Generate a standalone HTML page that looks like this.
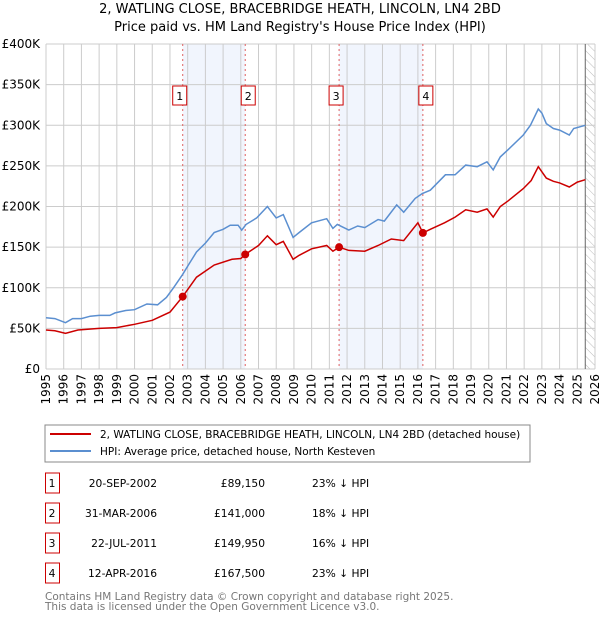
<!DOCTYPE html>
<html><head><meta charset="utf-8">
<style>
body{margin:0;background:#fff;font-family:"DejaVu Sans","Liberation Sans",sans-serif;}
svg text{font-family:"DejaVu Sans","Liberation Sans",sans-serif;}
</style></head>
<body>
<svg id="chart" width="600" height="620" xmlns="http://www.w3.org/2000/svg">
<defs>
<pattern id="hatch" width="6" height="6" patternUnits="userSpaceOnUse" patternTransform="rotate(-45)">
<line x1="0" y1="0" x2="0" y2="6" stroke="#bbb" stroke-width="1"/>
</pattern>
</defs>
<text x="300" y="13" text-anchor="middle" font-size="13" fill="#000">2, WATLING CLOSE, BRACEBRIDGE HEATH, LINCOLN, LN4 2BD</text>
<text x="300" y="31" text-anchor="middle" font-size="13" fill="#000">Price paid vs. HM Land Registry's House Price Index (HPI)</text>
<g id="plot"></g>
<rect x="45" y="425" width="485" height="37" fill="#fff" stroke="#888"/>
<line x1="50" y1="434" x2="91" y2="434" stroke="#cc0000" stroke-width="2"/>
<text x="100" y="438" font-size="10.5">2, WATLING CLOSE, BRACEBRIDGE HEATH, LINCOLN, LN4 2BD (detached house)</text>
<line x1="50" y1="451" x2="91" y2="451" stroke="#5b8fd0" stroke-width="2"/>
<text x="100" y="455" font-size="10.5">HPI: Average price, detached house, North Kesteven</text>
<g id="table" font-size="10.7"></g>
<text x="45" y="600" font-size="10.5" fill="#777">Contains HM Land Registry data © Crown copyright and database right 2025.</text>
<text x="45" y="610" font-size="10.5" fill="#777">This data is licensed under the Open Government Licence v3.0.</text>
</svg>
<script>
const hpiYears=[1995,1995.5,1996.1,1996.5,1997,1997.5,1998,1998.6,1998.9,1999.5,2000,2000.7,2001.3,2001.8,2002.2,2002.7,2003.1,2003.5,2004,2004.5,2005,2005.4,2005.85,2006.05,2006.3,2006.9,2007.5,2008,2008.4,2008.95,2009.3,2010,2010.85,2011.2,2011.45,2012.1,2012.6,2013,2013.75,2014.1,2014.8,2015.2,2015.85,2016.25,2016.7,2017.55,2018.1,2018.7,2019.35,2019.9,2020.25,2020.65,2021.1,2021.95,2022.35,2022.8,2023,2023.25,2023.65,2024,2024.55,2024.8,2025.45];
const hpiValues=[63,62,57,62,62,65,66,66,69,72,73,80,79,88,100,116,130,144,155,168,172,177,177,171,178,186,200,186,190,162,168,180,185,173,178,171,176,174,184,182,202,193,210,216,220,239,239,251,249,255,245,261,270,288,300,320,315,302,296,294,288,296,300];
const priceYears=[1995,1995.5,1996.1,1996.8,1998,1999,2000,2001,2002,2002.72,2003.5,2004.5,2005.5,2006,2006.25,2007,2007.5,2008,2008.4,2008.95,2009.3,2010,2010.85,2011.2,2011.55,2012.1,2013,2013.75,2014.5,2015.2,2016.0,2016.28,2016.7,2017.5,2018.1,2018.7,2019.35,2019.9,2020.25,2020.65,2021.1,2021.95,2022.4,2022.8,2023.25,2023.65,2024,2024.55,2025,2025.45];
const priceValues=[48,47,44,48,50,51,55,60,70,89.15,113,128,135,136,141,152,164,153,157,135,140,148,152,145,149.95,146,145,152,160,158,180,167.5,172,180,187,196,193,197,187,200,207,222,232,249,235,231,229,224,230,233];
const saleLabels=["1","2","3","4"];
const saleYears=[2002.72,2006.25,2011.55,2016.28];
const saleValues=[89.15,141,149.95,167.5];
const saleDates=["20-SEP-2002","31-MAR-2006","22-JUL-2011","12-APR-2016"];
const salePrices=["£89,150","£141,000","£149,950","£167,500"];
const saleDiffs=["23% ↓ HPI","18% ↓ HPI","16% ↓ HPI","23% ↓ HPI"];
const yTicks=[0,50,100,150,200,250,300,350,400];
const yTickLabels=["£0","£50K","£100K","£150K","£200K","£250K","£300K","£350K","£400K"];
const xTicks=[1995,1996,1997,1998,1999,2000,2001,2002,2003,2004,2005,2006,2007,2008,2009,2010,2011,2012,2013,2014,2015,2016,2017,2018,2019,2020,2021,2022,2023,2024,2025,2026];
const dataEnd=2025.45;

const NS="http://www.w3.org/2000/svg";
const X0=46,X1=595,Y0=369,Y1=44;
const xs=y=>X0+(y-1995)/(2026-1995)*(X1-X0);
const ys=v=>Y0-v/400*(Y0-Y1);
const plot=document.getElementById('plot');
function mk(tag,attrs,parent){const e=document.createElementNS(NS,tag);for(const k in attrs)e.setAttribute(k,attrs[k]);(parent||plot).appendChild(e);return e;}

for(let i=0;i<saleYears.length;i+=2){
  const r=mk('rect',{x:xs(saleYears[i]),y:Y1,width:xs(saleYears[i+1])-xs(saleYears[i]),height:Y0-Y1,fill:'#eef3fc',opacity:0.8});
  
  
}
const h=mk('rect',{x:xs(dataEnd),y:Y1,width:X1-xs(dataEnd),height:Y0-Y1,fill:'url(#hatch)'});


yTicks.forEach((t,i)=>{
  const l=mk('line',{x1:X0,x2:X1,y1:ys(t),y2:ys(t),stroke:'#ccc','stroke-width':1});
  
  
  const tx=mk('text',{x:X0-6,y:ys(t)+4,'text-anchor':'end','font-size':12,fill:'#000'});
  tx.textContent=yTickLabels[i];
  
  
});
xTicks.forEach(t=>{
  const l=mk('line',{x1:xs(t),x2:xs(t),y1:Y1,y2:Y0,stroke:'#ccc','stroke-width':1});
  
  
  const tx=mk('text',{x:0,y:0,'text-anchor':'end','font-size':12,fill:'#000',transform:`translate(${xs(t)+4},374) rotate(-90)`});
  tx.textContent=t;
  
  
});
const dl=mk('line',{x1:xs(dataEnd),x2:xs(dataEnd),y1:Y1,y2:Y0,stroke:'#666','stroke-width':1});


saleYears.forEach((y,i)=>{
  const l=mk('line',{x1:xs(y),x2:xs(y),y1:Y1,y2:Y0,stroke:'#e06060','stroke-width':1,'stroke-dasharray':'2,3'});
  
  
  const bx=xs(y)-(i%2==0?3:-3);
  const r=mk('rect',{x:bx-7,y:86,width:14,height:19,fill:'#fff',stroke:'#cc0000'});
  
  
  const t=mk('text',{x:bx,y:100,'text-anchor':'middle','font-size':11});
  t.textContent=saleLabels[i];
  
  
});
const path=(xa,va)=>xa.map((y,i)=>(i?'L':'M')+xs(y).toFixed(1)+','+ys(va[i]).toFixed(1)).join('');
const hp=mk('path',{d:path(hpiYears,hpiValues),fill:'none',stroke:'#5b8fd0','stroke-width':1.5});


const pp=mk('path',{d:path(priceYears,priceValues),fill:'none',stroke:'#cc0000','stroke-width':1.5});


saleYears.forEach((y,i)=>{
  const c=mk('circle',{cx:xs(y),cy:ys(saleValues[i]),r:4,fill:'#cc0000'});
  
  
});
const tb=document.getElementById('table');
const rowY=[483,513,543,573];
saleLabels.forEach((s,i)=>{
  const y=rowY[i];
  const r=mk('rect',{x:45.5,y:y-10,width:14,height:20,fill:'#fff',stroke:'#cc0000'},tb);
  
  
  const cells=[[52,'middle',s,'table-row-number'],[157,'end',saleDates[i],'table-row-date'],[265,'end',salePrices[i],'table-row-price'],[312,'start',saleDiffs[i],'table-row-diff']];
  cells.forEach(c=>{
    const t=mk('text',{x:c[0],y:y+4,'text-anchor':c[1]},tb);
    t.textContent=c[2];
    
    
  });
});
</script>
</body></html>
